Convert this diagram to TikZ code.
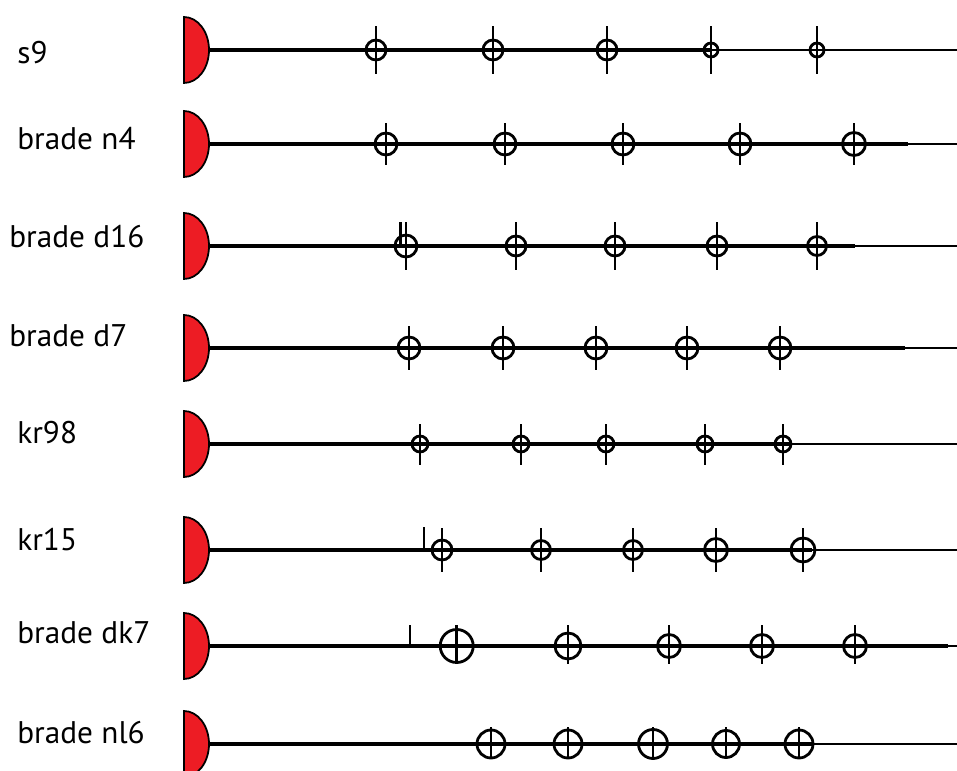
\documentclass[tikz,border=0pt]{standalone}
\usepackage{fontspec}
\setsansfont{PT Sans}
\definecolor{capred}{RGB}{237,28,36}

\begin{document}
\begin{tikzpicture}[x=0.02cm, y=0.02cm,
    lbl/.style={anchor=base west, inner sep=0pt, font=\sffamily\fontsize{17.8}{20}\selectfont},
    centro/.style={draw=black, line width=1pt, fill=capred},
    rail/.style={line width=1.9pt},
    tail/.style={line width=1.4pt},
    ring/.style={line width=1.6pt},
    tick/.style={line width=1.4pt}
    ]
    \useasboundingbox (0,0) rectangle (957,771);
    % strain names
    \node[lbl] (s9)  at (17,707) {s9};
    \node[lbl] (n4)  at (17,621) {brade n4};
    \node[lbl] (d16) at (9,523)  {brade d16};
    \node[lbl] (d7)  at (9,424)  {brade d7};
    \node[lbl] (kr98) at (17,327) {kr98};
    \node[lbl] (kr15) at (17,220) {kr15};
    \node[lbl] (dk7) at (17,127) {brade dk7};
    \node[lbl] (nl6) at (17,28)  {brade nl6};
    % centromere caps and chromosome lines
    \foreach \i/\y/\tend in {1/721/710, 2/627/908, 3/525/855, 4/423/905,
                             5/327/790, 6/221/812, 7/125/948, 8/27/813} {
        \draw[centro] (184,\y+33) arc[start angle=90, end angle=-90, x radius=25, y radius=33] -- cycle;
        \coordinate (a\i) at (209,\y);
        \coordinate (m\i) at (\tend,\y);
        \coordinate (b\i) at (957,\y);
        \draw[rail] (a\i) -- (m\i);
        \draw[tail] (m\i) -- (b\i);
    }
    % extra ticks
    \draw[tick] (400.7,525) -- ++(0,24);
    \draw[tick] (424,221) -- ++(0,23);
    \draw[tick] (410,125) -- ++(0,21);
    % markers
    \foreach \x/\r in {376/10, 493/10, 607/10, 711/7, 817/7}
        {\draw[ring] (\x,721) circle[radius=\r]; \draw[tick] (\x,697) -- (\x,745);}
    \foreach \x/\r in {386/11, 505/11, 623/11, 740/11, 854/11.5}
        {\draw[ring] (\x,627) circle[radius=\r]; \draw[tick] (\x,606) -- (\x,648);}
    \foreach \x/\r in {406/11, 516/10, 615/10, 717/10, 817/9.5}
        {\draw[ring] (\x,525) circle[radius=\r]; \draw[tick] (\x,501) -- (\x,549);}
    \foreach \x/\r in {409/11, 503/11, 596/11, 687/11, 780/11}
        {\draw[ring] (\x,423) circle[radius=\r]; \draw[tick] (\x,401) -- (\x,445);}
    \foreach \x/\r in {420/8, 521/8, 606/8, 705/8, 783/8}
        {\draw[ring] (\x,327) circle[radius=\r]; \draw[tick] (\x,306) -- (\x,347);}
    \foreach \x/\r in {442/10, 541/9.5, 633/9.5, 716/11.5, 803/12}
        {\draw[ring] (\x,221) circle[radius=\r]; \draw[tick] (\x,199) -- (\x,243);}
    \foreach \x/\r in {456.7/16.5, 568/13, 669/11.5, 762/11.5, 855/11.5}
        {\draw[ring] (\x,125) circle[radius=\r]; \draw[tick] (\x,107) -- (\x,146);}
    \foreach \x/\r in {491/14, 568/14, 653/14.5, 726/13.5, 799/14}
        {\draw[ring] (\x,27) circle[radius=\r]; \draw[tick] (\x,14) -- (\x,44);}
\end{tikzpicture}
\end{document}
